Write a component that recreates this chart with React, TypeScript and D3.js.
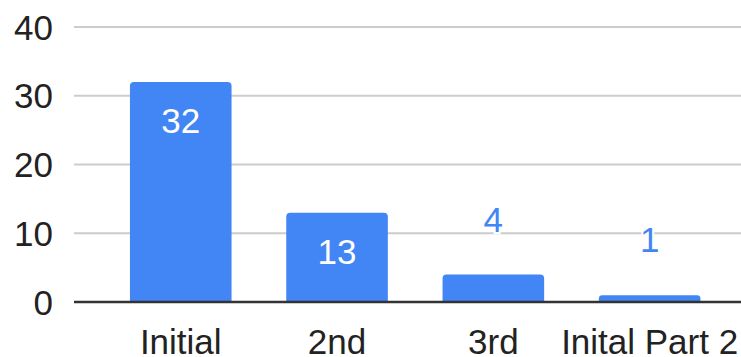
import React from "react";
import * as d3 from "d3";

const categories = ["Initial", "2nd", "3rd", "Inital Part 2"];
const values = [32, 13, 4, 1];
const yTicks = [0, 10, 20, 30, 40];

const W = 741;
const H = 357;
const BLUE = "#4285F4";
const FONT = "'Liberation Sans', Arial, sans-serif";
const FS = 35;

export default function App() {
  const y = d3.scaleLinear().domain([0, 40]).range([302, 27]);
  const x = d3
    .scaleBand<string>()
    .domain(categories)
    .range([102.6, 727.8])
    .paddingInner(0.35)
    .paddingOuter(0.175);
  const bw = x.bandwidth();
  const r = 4;

  const barPath = (c: string, v: number) => {
    const x0 = x(c)!;
    const x1 = x0 + bw;
    const y0 = y(0);
    const y1 = y(v);
    const rr = Math.min(r, (y0 - y1) / 2);
    return `M${x0},${y0}V${y1 + rr}Q${x0},${y1} ${x0 + rr},${y1}H${x1 - rr}Q${x1},${y1} ${x1},${y1 + rr}V${y0}Z`;
  };

  return (
    <svg width={W} height={H} style={{ position: "absolute", left: 0, top: 0 }} fontFamily={FONT}>
      <rect width={W} height={H} fill="#fff" />
      {yTicks.filter((t) => t !== 0).map((t) => (
        <line key={t} x1={74} x2={W} y1={y(t)} y2={y(t)} stroke="#cccccc" strokeWidth={2} />
      ))}
      {yTicks.map((t) => (
        <text key={t} x={53} y={y(t)} dy="0.36em" textAnchor="end" fontSize={FS} fill="#222">
          {t}
        </text>
      ))}
      {categories.map((c, i) => {
        const v = values[i];
        const inside = y(0) - y(v) > 60;
        const cx = x(c)! + bw / 2;
        return (
          <g key={c}>
            <path d={barPath(c, v)} fill={BLUE} />
            {inside ? (
              <text x={cx} y={y(v) + 51} textAnchor="middle" fontSize={FS} fill="#fff">
                {v}
              </text>
            ) : (
              <text
                x={cx}
                y={y(v) - 43}
                textAnchor="middle"
                fontSize={FS}
                fill={BLUE}
                stroke="#fff"
                strokeWidth={4}
                paintOrder="stroke"
              >
                {v}
              </text>
            )}
          </g>
        );
      })}
      <line x1={74} x2={W} y1={y(0)} y2={y(0)} stroke="#333" strokeWidth={2.5} />
      {categories.map((c) => (
        <text key={c} x={x(c)! + bw / 2} y={354} textAnchor="middle" fontSize={FS} fill="#222">
          {c}
        </text>
      ))}
    </svg>
  );
}
